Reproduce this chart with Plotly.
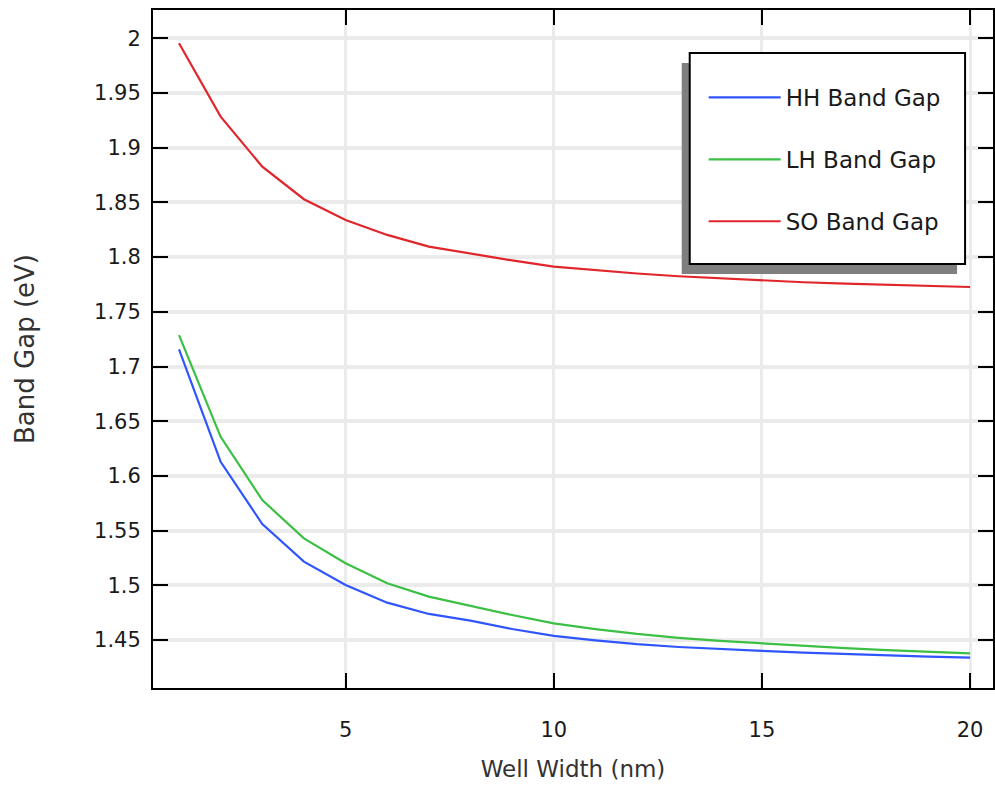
import plotly.graph_objects as go

# ---------------- data ----------------
well_width = list(range(1, 21))
hh_gap = [1.7156, 1.6129, 1.5560, 1.5216, 1.5003, 1.4841, 1.4738, 1.4677, 1.4600, 1.4537,
          1.4497, 1.4462, 1.4436, 1.4416, 1.4400, 1.4385, 1.4371, 1.4359, 1.4348, 1.4338]
lh_gap = [1.7287, 1.6357, 1.5779, 1.5429, 1.5201, 1.5018, 1.4896, 1.4811, 1.4728, 1.4652,
          1.4600, 1.4555, 1.4520, 1.4492, 1.4468, 1.4445, 1.4425, 1.4407, 1.4392, 1.4378]
so_gap = [1.9955, 1.9284, 1.8827, 1.8529, 1.8340, 1.8203, 1.8096, 1.8030, 1.7970, 1.7913,
          1.7880, 1.7850, 1.7825, 1.7805, 1.7785, 1.7770, 1.7757, 1.7745, 1.7735, 1.7727]
series_names = ["HH Band Gap", "LH Band Gap", "SO Band Gap"]
x_tick_vals = [5, 10, 15, 20]
x_tick_text = ["5", "10", "15", "20"]
y_tick_vals = [1.45, 1.5, 1.55, 1.6, 1.65, 1.7, 1.75, 1.8, 1.85, 1.9, 1.95, 2.0]
y_tick_text = ["1.45", "1.5", "1.55", "1.6", "1.65", "1.7", "1.75", "1.8", "1.85", "1.9", "1.95", "2"]

colors = ["#2f55ff", "#3cbf45", "#e0262b"]
FONT = "DejaVu Sans"

fig = go.Figure()
for i, (name, ys) in enumerate(zip(series_names, [hh_gap, lh_gap, so_gap])):
    fig.add_trace(go.Scatter(
        x=well_width, y=ys, mode="lines", name=name,
        line=dict(color=colors[i], width=2.2),
        legendgroup=f"g{i}",
    ))

W, H = 995, 787
ML, MR, MT, MB = 153, 0, 10, 99
pw, ph = W - ML - MR, H - MT - MB

def px(xp):
    return (xp - ML) / pw

def py(yp):
    return (H - MB - yp) / ph

# legend box + shadow (decoration)
box = dict(x0=691, x1=967, y0=53, y1=264)
shadow_dx, shadow_dy = -8, 10
shapes = [
    dict(type="rect", xref="paper", yref="paper", layer="above",
         x0=px(box["x0"] + shadow_dx), x1=px(box["x1"] + shadow_dx),
         y0=py(box["y1"] + shadow_dy), y1=py(box["y0"] + shadow_dy),
         fillcolor="#7f7f7f", line=dict(width=0)),
    dict(type="rect", xref="paper", yref="paper", layer="above",
         x0=px(box["x0"]), x1=px(box["x1"]), y0=py(box["y1"]), y1=py(box["y0"]),
         fillcolor="white", line=dict(color="black", width=2)),
]

fig.update_layout(
    width=W, height=H,
    margin=dict(l=ML, r=MR, t=MT, b=MB, pad=0),
    paper_bgcolor="white", plot_bgcolor="white",
    font=dict(family=FONT, color="#1a1a1a", size=21),
    showlegend=True,
    legend=dict(
        x=px(705), y=py(76), xanchor="left", yanchor="top",
        bgcolor="rgba(0,0,0,0)", borderwidth=0,
        font=dict(family=FONT, size=23, color="#1a1a1a"),
        tracegroupgap=29, itemwidth=72,
    ),
    shapes=shapes,
    xaxis=dict(
        range=[0.375, 20.55], tickmode="array", tickvals=x_tick_vals, ticktext=x_tick_text,
        ticks="inside", ticklen=15, tickwidth=2, tickcolor="black",
        showline=True, linecolor="black", linewidth=2, mirror="ticks",
        showgrid=True, gridcolor="#ebebeb", gridwidth=3, zeroline=False,
        tickfont=dict(family=FONT, size=21, color="#1a1a1a"),
        ticklabelstandoff=22,
        title=dict(text="Well Width (nm)", font=dict(family=FONT, size=23, color="#333333"),
                   standoff=20),
    ),
    yaxis=dict(
        range=[1.4061, 2.0259], tickmode="array", tickvals=y_tick_vals, ticktext=y_tick_text,
        ticks="inside", ticklen=15, tickwidth=2, tickcolor="black",
        showline=True, linecolor="black", linewidth=2, mirror="ticks",
        showgrid=True, gridcolor="#ebebeb", gridwidth=4, zeroline=False,
        tickfont=dict(family=FONT, size=21, color="#1a1a1a"),
        ticklabelstandoff=6,
        title=dict(text="Band Gap (eV)", font=dict(family=FONT, size=26, color="#333333"),
                   standoff=52),
    ),
)

fig.write_html("out.html")
